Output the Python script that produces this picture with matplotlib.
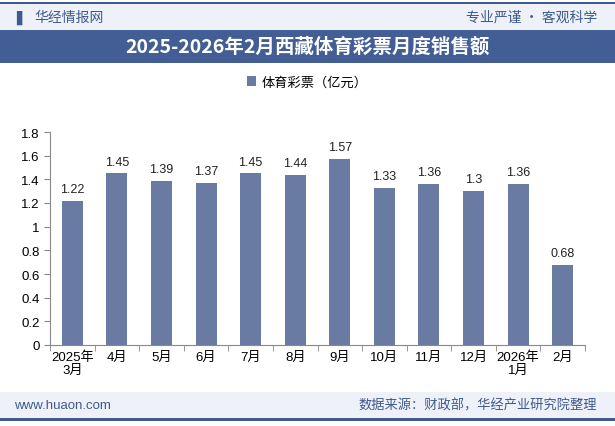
import matplotlib.pyplot as plt
from matplotlib.patches import Rectangle

plt.rcParams['font.family'] = ['Liberation Sans', 'Noto Sans CJK SC', 'DejaVu Sans']

# data
months = ['2025年\n3月', '4月', '5月', '6月', '7月', '8月', '9月', '10月', '11月', '12月', '2026年\n1月', '2月']
sales = [1.22, 1.45, 1.39, 1.37, 1.45, 1.44, 1.57, 1.33, 1.36, 1.3, 1.36, 0.68]
series_name = '体育彩票（亿元）'

W, H = 615, 427
fig = plt.figure(figsize=(W / 100, H / 100), dpi=100)
fig.patch.set_facecolor('white')

def band(y0, y1, color):
    # y in pixels from top
    fig.add_artist(Rectangle((0, 1 - y1 / H), 1, (y1 - y0) / H, transform=fig.transFigure,
                             facecolor=color, edgecolor='none', zorder=0))

cjk = ['Noto Sans CJK SC', 'DejaVu Sans']

# header
band(3, 5, '#3e5a8e')
band(5, 31, '#eef2f8')
band(31, 64, '#425e94')
fig.text(16 / W, 1 - 18 / H, '▌', color='#3e5a8e', fontsize=10, va='center', family=['DejaVu Sans'])
fig.text(34 / W, 1 - 18 / H, '华经情报网', color='#3e5a8e', fontsize=10, va='center', family=cjk)
fig.text(597 / W, 1 - 18 / H, '专业严谨 • 客观科学', color='#3e5a8e', fontsize=10, va='center', ha='right',
         family=cjk)
fig.text(0.5, 1 - 47.5 / H, '2025-2026年2月西藏体育彩票月度销售额', color='white', fontsize=14,
         fontweight='bold', ha='center', va='center', family=cjk)

# footer
band(393, 419, '#eef2f8')
band(419, 422, '#3e5a8e')
fig.text(14 / W, 1 - 406 / H, 'www.huaon.com', color='#3e5a8e', fontsize=9.5, va='center')
fig.text(597 / W, 1 - 406 / H, '数据来源：财政部，华经产业研究院整理', color='#3e5a8e', fontsize=9.5,
         va='center', ha='right', family=cjk)

# chart
ax = fig.add_axes([50 / W, 1 - 346 / H, 535 / W, 213 / H])
x = range(len(months))
bars = ax.bar(x, sales, width=0.47, color='#6a7ba3', label=series_name, zorder=2)
for xi, v in zip(x, sales):
    ax.text(xi, v + 0.05, f'{v:g}', ha='center', va='bottom', fontsize=9, color='#222222')

ax.set_xlim(-0.5, len(months) - 0.5)
ax.set_ylim(0, 1.8)
ax.set_yticks([0, 0.2, 0.4, 0.6, 0.8, 1, 1.2, 1.4, 1.6, 1.8])
ax.set_yticklabels(['0', '0.2', '0.4', '0.6', '0.8', '1', '1.2', '1.4', '1.6', '1.8'])
ax.set_xticks(x)
ax.set_xticklabels(months, fontsize=9.5, linespacing=1.1)
ax.set_xticks([i - 0.5 for i in range(len(months) + 1)], minor=True)
ax.tick_params(axis='x', which='major', length=0, pad=4)
ax.tick_params(axis='x', which='minor', length=4, color='#888888')
ax.tick_params(axis='y', length=4, color='#888888', labelsize=9.5)
for s in ['top', 'right']:
    ax.spines[s].set_visible(False)
ax.spines['left'].set_color('#888888')
ax.spines['bottom'].set_color('#888888')
ax.set_facecolor('none')

fig.legend(handles=[bars], labels=[series_name], loc='center', bbox_to_anchor=(0.5, 1 - 83 / H),
           frameon=False, fontsize=9.5, handlelength=0.7, handleheight=0.7, handletextpad=0.4,
           prop={'family': cjk, 'size': 9.5})

fig.savefig('out.png', dpi=100)
